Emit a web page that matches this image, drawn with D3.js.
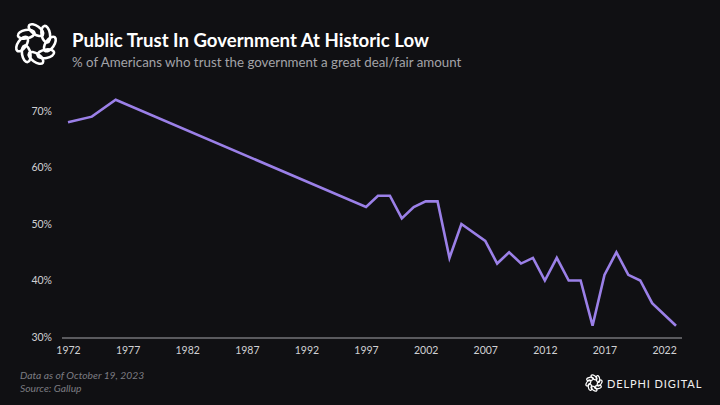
<!DOCTYPE html>
<html><head><meta charset="utf-8">
<script src="https://cdn.jsdelivr.net/npm/d3@7"></script>
<style>
html,body{margin:0;padding:0;background:#101013;}
svg{display:block;}
</style></head>
<body><svg id="c" width="720" height="405"></svg>
<script>
const years  = [1972,1974,1976,1997,1998,1999,2000,2001,2002,2003,2004,2005,2007,2008,2009,2010,2011,2012,2013,2014,2015,2016,2017,2018,2019,2020,2021,2023];
const values = [68,69,72,53,55,55,51,53,54,54,44,50,47,43,45,43,44,40,44,40,40,32,41,45,41,40,36,32];
const xTicks = [1972,1977,1982,1987,1992,1997,2002,2007,2012,2017,2022];
const yTicks = [30,40,50,60,70];
const title = "Public Trust In Government At Historic Low";
const subtitle = "% of Americans who trust the government a great deal/fair amount";
const notes = ["Data as of October 19, 2023","Source: Gallup"];
const brand = "DELPHI DIGITAL";

const svg = d3.select("#c");
svg.append("rect").attr("width",720).attr("height",405).attr("fill","#101013");

const x = d3.scaleLinear().domain([1972,2023]).range([68,676]);
const y = d3.scaleLinear().domain([30,70]).range([337,111]);

// logo
function logo(g, r, sw){
  const n = 8;
  for(let i=0;i<n;i++){
    const a = i*2*Math.PI/n;
    const cx = Math.cos(a)*r*0.66, cy = Math.sin(a)*r*0.66;
    g.append("ellipse")
      .attr("cx", cx).attr("cy", cy)
      .attr("rx", r*0.40).attr("ry", r*0.2)
      .attr("transform", `rotate(${a*180/Math.PI+90+35} ${cx} ${cy})`)
      .attr("fill","none").attr("stroke","#fff").attr("stroke-width",sw);
  }
}
logo(svg.append("g").attr("transform","translate(36,44)"), 21, 2.6);

svg.append("text").attr("x",72).attr("y",47).text(title)
  .attr("font-family","Lato, 'Open Sans', sans-serif").attr("font-weight",700)
  .attr("font-size",18.6).attr("fill","#ffffff");
svg.append("text").attr("x",72).attr("y",67).text(subtitle)
  .attr("font-family","Lato, 'Open Sans', sans-serif")
  .attr("font-size",13.3).attr("fill","#a3a3a8");

// y axis labels
const yAxis = d3.axisLeft(y).tickValues(yTicks).tickFormat(d=>d+"%").tickSize(0).tickPadding(0);
const gy = svg.append("g").attr("transform","translate(52,0)").call(yAxis);
gy.select(".domain").remove();
gy.selectAll("text").attr("font-family","Lato, sans-serif").attr("font-size",10.5).attr("fill","#d0d0d4");

// x axis
const xAxis = d3.axisBottom(x).tickValues(xTicks).tickFormat(d3.format("d")).tickSize(0).tickPadding(9);
const gx = svg.append("g").attr("transform","translate(0,338)").call(xAxis);
gx.select(".domain").remove();
gx.selectAll("text").attr("font-family","Lato, sans-serif").attr("font-size",10.5).attr("fill","#d0d0d4");
svg.append("line").attr("x1",62).attr("x2",682).attr("y1",338).attr("y2",338)
  .attr("stroke","#5a5a5e").attr("stroke-width",2);

// line
const data = years.map((yr,i)=>({yr, v:values[i]}));
svg.append("path").datum(data)
  .attr("d", d3.line().x(d=>x(d.yr)).y(d=>y(d.v)))
  .attr("fill","none").attr("stroke","#9b80e8").attr("stroke-width",2.6)
  .attr("stroke-linejoin","miter");

// footer
notes.forEach((t,i)=>{
  svg.append("text").attr("x",20).attr("y",379+i*13).text(t)
    .attr("font-family","Lato, sans-serif").attr("font-style","italic")
    .attr("font-size",10.3).attr("fill","#7c7c82");
});
logo(svg.append("g").attr("transform","translate(594,383)"), 8.5, 1.2);
svg.append("text").attr("x",607).attr("y",387.5).text(brand)
  .attr("font-family","Lato, sans-serif").attr("font-size",11).attr("font-weight",400)
  .attr("letter-spacing",0.9).attr("fill","#f0f0f0");
</script></body></html>
